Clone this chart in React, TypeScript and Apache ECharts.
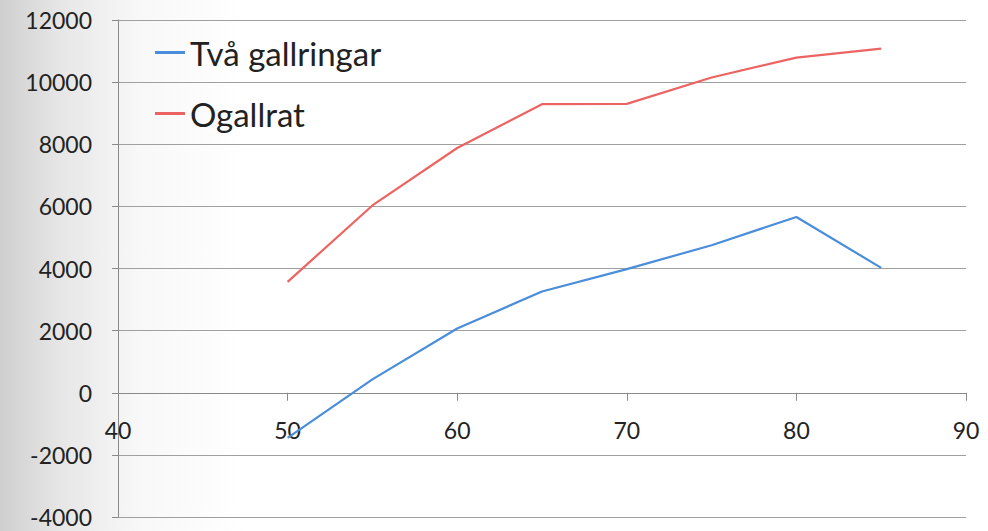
import React, { useEffect, useRef } from "react";
import * as echarts from "echarts";

const xValues = [50, 55, 60, 65, 70, 75, 80, 85];
const tvaGallringar = [-1450, 430, 2070, 3260, 3980, 4750, 5660, 4020];
const ogallrat = [3570, 6030, 7880, 9290, 9300, 10150, 10790, 11080];
const seriesNames = ["Två gallringar", "Ogallrat"];
const seriesColors = ["#4a8ddb", "#ec6462"];

export default function App() {
  const ref = useRef<HTMLDivElement>(null);
  useEffect(() => {
    if (!ref.current) return;
    const chart = echarts.init(ref.current, null, { renderer: "svg" });
    const font = "Lato, 'Open Sans', sans-serif";
    chart.setOption({
      animation: false,
      backgroundColor: {
        type: "linear",
        x: 0,
        y: 0,
        x2: 1,
        y2: 0,
        colorStops: [
          { offset: 0, color: "#cfcfcf" },
          { offset: 0.06, color: "#e6e6e6" },
          { offset: 0.14, color: "#f8f8f8" },
          { offset: 0.25, color: "#ffffff" },
          { offset: 1, color: "#ffffff" },
        ],
      },
      grid: { left: 118, right: 22, top: 20, bottom: 14, containLabel: false },
      legend: {
        left: 150,
        top: 31,
        orient: "vertical",
        itemGap: 28,
        itemWidth: 30,
        itemHeight: 3,
        icon: "rect",
        textStyle: { fontFamily: font, fontSize: 33, color: "#222" },
        data: seriesNames,
      },
      xAxis: {
        type: "value",
        min: 40,
        max: 90,
        interval: 10,
        offset: -124.25,
        axisLine: { onZero: false, lineStyle: { color: "#8a8a8a", width: 1 } },
        axisTick: { show: true, length: 8, lineStyle: { color: "#8a8a8a" } },
        axisLabel: { fontFamily: font, fontSize: 23, color: "#222", margin: 26 },
        splitLine: { show: false },
      },
      yAxis: {
        type: "value",
        min: -4000,
        max: 12000,
        interval: 2000,
        axisLine: { show: true, lineStyle: { color: "#8a8a8a", width: 1 } },
        axisTick: { show: true, length: 6, lineStyle: { color: "#8a8a8a" } },
        axisLabel: {
          fontFamily: font,
          fontSize: 23,
          color: "#222",
          margin: 26,
          formatter: (v: number) => String(v),
        },
        splitLine: { show: true, lineStyle: { color: "#a0a0a0", width: 1 } },
      },
      series: [
        {
          name: seriesNames[0],
          type: "line",
          data: xValues.map((x, i) => [x, tvaGallringar[i]]),
          symbol: "none",
          lineStyle: { color: seriesColors[0], width: 2.2 },
          itemStyle: { color: seriesColors[0] },
        },
        {
          name: seriesNames[1],
          type: "line",
          data: xValues.map((x, i) => [x, ogallrat[i]]),
          symbol: "none",
          lineStyle: { color: seriesColors[1], width: 2.2 },
          itemStyle: { color: seriesColors[1] },
        },
      ],
    });
    return () => chart.dispose();
  }, []);
  return (
    <div
      ref={ref}
      style={{ width: 988, height: 531, position: "fixed", left: 0, top: 0 }}
    />
  );
}
